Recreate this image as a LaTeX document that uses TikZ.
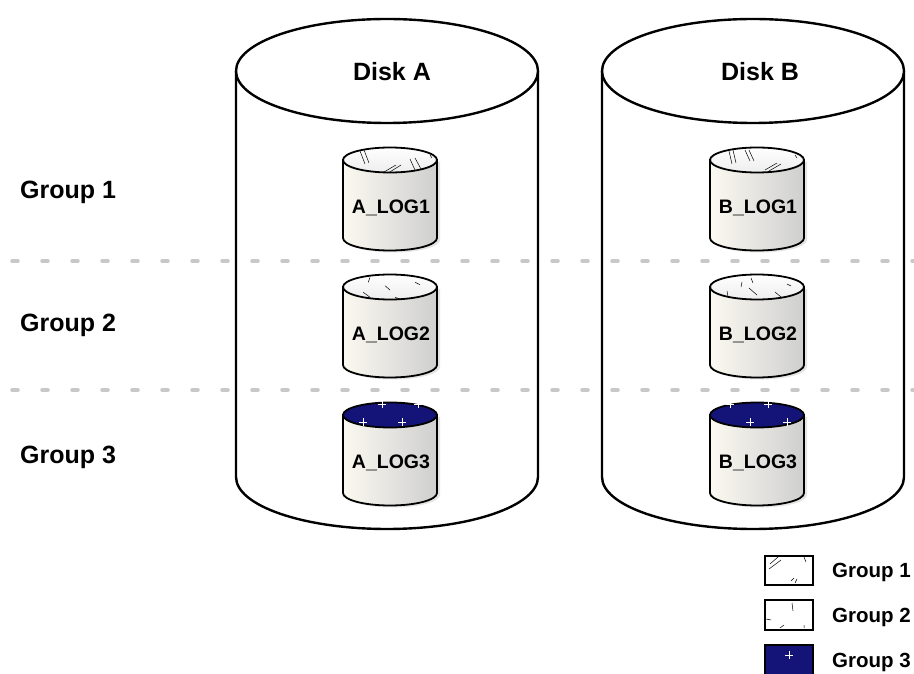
\documentclass[tikz,border=0pt]{standalone}
\usepackage{fontspec}
\setmainfont{Liberation Sans}
\definecolor{navy}{HTML}{141478}
\definecolor{logL}{HTML}{FBF9F0}
\definecolor{logR}{HTML}{CFCFCF}
\definecolor{dashgray}{HTML}{C8C8C8}
\tikzset{
  disk/.style={draw=black, line width=2.4pt, fill=white},
  logbody/.style={draw=black, line width=1.8pt, left color=logL, right color=logR},
  logtop/.style={draw=black, line width=1.8pt, top color=white, bottom color=white!93!black},
  navytop/.style={draw=black, line width=1.8pt, fill=navy},
  hatch/.style={draw=black, line width=0.5pt},
  plusmark/.style={draw=white, line width=0.9pt},
  grouplbl/.style={font=\fontsize{25}{30}\selectfont\bfseries, anchor=west, inner sep=0pt},
  disklbl/.style={font=\fontsize{25}{30}\selectfont\bfseries, inner sep=0pt},
  loglbl/.style={font=\fontsize{19.5}{24}\selectfont\bfseries, inner sep=0pt},
  leglbl/.style={font=\fontsize{20.5}{24}\selectfont\bfseries, anchor=west, inner sep=0pt},
  legbox/.style={draw=black, line width=2.8pt},
  sepline/.style={draw=dashgray, line width=3.5pt, line cap=round, dash pattern=on 6pt off 24pt},
}
\newcommand\bigdisk[5]{% cx, Ytop, Ybot, name, label
  \draw[disk] (#1-151,#2) -- (#1-151,#3) arc[start angle=180, end angle=360, x radius=151pt, y radius=52pt] -- (#1+151,#2);
  \draw[disk] (#1,#2) ellipse[x radius=151pt, y radius=52pt];
}
\newcommand\logcyl[6]{% cx, Ytop, name, label, topstyle, decoration
  \begin{scope}[shift={(#1,#2)}]
    \fill[black!10] (-44,-2) -- (-44,-80) arc[start angle=180, end angle=360, x radius=47pt, y radius=12.5pt] -- (50,-2) -- cycle;
    \draw[logbody] (-47,0) -- (-47,-78) arc[start angle=180, end angle=360, x radius=47pt, y radius=12.5pt] -- (47,0) -- cycle;
    \draw[#5] (0,0) ellipse[x radius=47pt, y radius=12.5pt];
    #6
    \node[loglbl] (#3) at (1,-48) {#4};
  \end{scope}
}
\newcommand\hatchA{\draw[hatch] (-30,9)--(-25,-4) (-26,10)--(-21,-3) (-6,-12)--(6,-5) (-1,-12.5)--(11,-5) (20,1)--(25,-10) (25,2)--(31,-9) (40,5)--(42,2);}
\newcommand\hatchB{\draw[hatch] (-20,9.7)--(-21.7,4.7) (-26.7,-5.3)--(-20,-10.3) (-5,1.3)--(0,-3) (5,-10.3)--(10,-12) (25,4.7)--(30,2.3);}
\begin{document}
\begin{tikzpicture}[x=1pt,y=1pt]
  \useasboundingbox (0,0) rectangle (914,673);
  \clip (0,0) rectangle (914,673);
  % big disks
  \bigdisk{387}{602}{196}{diskA}{Disk A}
  \bigdisk{753}{602}{196}{diskB}{Disk B}
  \node[disklbl] (dA) at (392,601) {Disk A};
  \node[disklbl] (dB) at (760,601) {Disk B};
  % separators
  \draw[sepline] (12,412) -- (914,412);
  \draw[sepline] (12,283) -- (914,283);
  % group labels
  \node[grouplbl] (g1) at (20,481) {Group 1};
  \node[grouplbl] (g2) at (20,348) {Group 2};
  \node[grouplbl] (g3) at (20,216) {Group 3};
  % small cylinders
  \logcyl{390}{513}{alog1}{A\_LOG1}{logtop}{\hatchA}
  \logcyl{390}{386}{alog2}{A\_LOG2}{logtop}{\hatchB}
  \logcyl{390}{258}{alog3}{A\_LOG3}{navytop}{\draw[plusmark] (-8,11) +(-4,0)--+(4,0) +(0,-4)--+(0,4) (-27,-7) +(-4,0)--+(4,0) +(0,-4)--+(0,4) (12,-7) +(-4,0)--+(4,0) +(0,-4)--+(0,4) (28,11) +(-4,0)--+(4,0) +(0,-4)--+(0,4);}
  \logcyl{757}{513}{blog1}{B\_LOG1}{logtop}{\draw[hatch] (-28,9)--(-25,-4) (-24,10)--(-21,-3) (-12,10)--(-7,-1) (-8,10)--(-3,-1) (8,-10)--(20,-3) (12,-11)--(24,-4) (38,5)--(40,2);}
  \logcyl{757}{386}{blog2}{B\_LOG2}{logtop}{\draw[hatch] (-30,-4)--(-29,-10) (-15,5)--(-16,0) (-6,9)--(-4,4) (-8,-1)--(0,-8) (18,-5)--(24,-10) (30,3)--(34,1);}
  \logcyl{757}{258}{blog3}{B\_LOG3}{navytop}{\draw[plusmark] (-27,11) +(-4,0)--+(4,0) +(0,-4)--+(0,4) (11,11) +(-4,0)--+(4,0) +(0,-4)--+(0,4) (-7,-7) +(-4,0)--+(4,0) +(0,-4)--+(0,4) (30,-7) +(-4,0)--+(4,0) +(0,-4)--+(0,4);}
  % legend
  \draw[legbox] (765,117) rectangle (813,88);
  \draw[hatch] (769,104)--(781,113) (770,109)--(778,116) (804,116)--(806,111) (791,92)--(794,95) (795,90)--(797,94);
  \node[leglbl] (l1) at (832,101) {Group 1};
  \draw[legbox] (765,73) rectangle (813,43);
  \draw[hatch] (792,70)--(793,62) (766,54)--(771,53) (780,45)--(784,48) (804,45)--(804,48);
  \node[leglbl] (l2) at (832,56) {Group 2};
  \draw[legbox, fill=navy] (765,28) rectangle (813,-17);
  \draw[plusmark] (789,18) +(-4,0)--+(4,0) +(0,-4)--+(0,4);
  \node[leglbl] (l3) at (832,11) {Group 3};
\end{tikzpicture}
\end{document}
